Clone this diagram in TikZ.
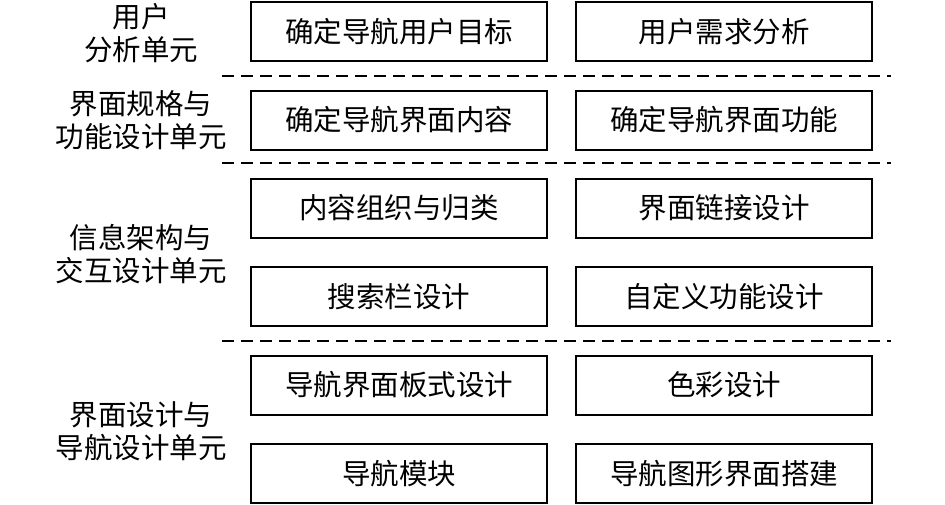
\documentclass[tikz,border=0pt]{standalone}
\usepackage{fontspec}
\newfontfamily\cjk{Noto Sans CJK SC}
\begin{document}
\begin{tikzpicture}[x=1pt,y=-1pt,
  unitbox/.style={draw=black,line width=2pt,minimum width=296pt,minimum height=59pt,inner sep=0pt,font=\cjk\fontsize{28.5}{33}\selectfont},
  unitlabel/.style={align=center,inner sep=0pt,font=\cjk\fontsize{28.5}{33}\selectfont},
  sepline/.style={line width=2pt,dash pattern=on 12pt off 7pt}]
\useasboundingbox (0,0) rectangle (945,504);
% boxes
\node[unitbox] (a1) at (399,31.5) {确定导航用户目标};
\node[unitbox] (b1) at (724,31.5) {用户需求分析};
\node[unitbox] (a2) at (399,120) {确定导航界面内容};
\node[unitbox] (b2) at (724,120) {确定导航界面功能};
\node[unitbox] (a3) at (399,208) {内容组织与归类};
\node[unitbox] (b3) at (724,208) {界面链接设计};
\node[unitbox] (a4) at (399,296.5) {搜索栏设计};
\node[unitbox] (b4) at (724,296.5) {自定义功能设计};
\node[unitbox] (a5) at (399,385) {导航界面板式设计};
\node[unitbox] (b5) at (724,385) {色彩设计};
\node[unitbox] (a6) at (399,473.5) {导航模块};
\node[unitbox] (b6) at (724,473.5) {导航图形界面搭建};
% labels
\node[unitlabel] (l1) at (141,33) {用户\\分析单元};
\node[unitlabel] (l2) at (141,120.5) {界面规格与\\功能设计单元};
\node[unitlabel] (l3) at (141,254) {信息架构与\\交互设计单元};
\node[unitlabel] (l4) at (141,431) {界面设计与\\导航设计单元};
% separators
\coordinate (s1a) at (222,76); \coordinate (s1b) at (891,76);
\coordinate (s2a) at (222,163); \coordinate (s2b) at (891,163);
\coordinate (s3a) at (222,341); \coordinate (s3b) at (891,341);
\draw[sepline] (s1a) -- (s1b);
\draw[sepline] (s2a) -- (s2b);
\draw[sepline] (s3a) -- (s3b);
\end{tikzpicture}
\end{document}
